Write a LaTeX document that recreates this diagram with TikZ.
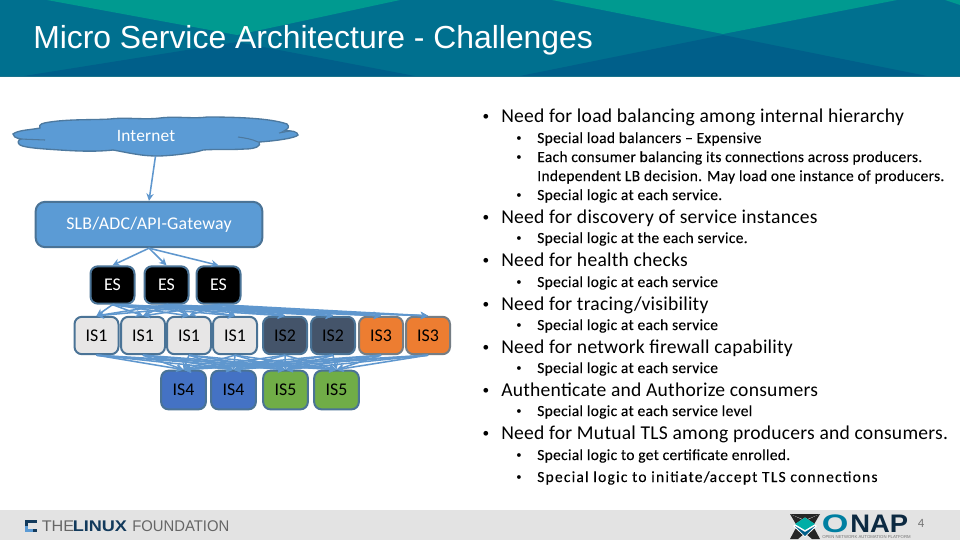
\documentclass[tikz,border=0pt]{standalone}
\usepackage{fontspec}
\setmainfont{Carlito}
\newfontfamily\titlefont{Liberation Sans}
\newfontfamily\logofont{Liberation Sans}
\newfontfamily\mainfont[LetterSpace=1.2]{Carlito}
\newfontfamily\subfont[LetterSpace=2.0,FakeBold=0.15]{Carlito}
\newfontfamily\widefont[LetterSpace=8.0,FakeBold=0.15]{Carlito}
\newfontfamily\bulfont{Carlito}
\usetikzlibrary{arrows.meta}
\definecolor{teal1}{HTML}{009A90}
\definecolor{mid1}{HTML}{00708F}
\definecolor{dark1}{HTML}{005F8A}
\definecolor{edgeblue}{HTML}{4A7396}
\definecolor{skyfill}{HTML}{5B9BD5}
\definecolor{linkblue}{HTML}{5F97CE}
\definecolor{footgray}{HTML}{E3E3E3}
\definecolor{navy}{HTML}{123A5C}
\definecolor{is1fill}{HTML}{E7E6E6}
\definecolor{is2fill}{HTML}{44546A}
\definecolor{is3fill}{HTML}{ED7D31}
\definecolor{is4fill}{HTML}{4472C4}
\definecolor{is5fill}{HTML}{70AD47}
\tikzset{
  x=0.75pt,y=-0.75pt,
  boxbase/.style={draw=edgeblue,line width=1.5pt,rounded corners=5.5pt,inner sep=0pt,
     minimum width=33pt,minimum height=28pt,font=\fontsize{13.4}{15}\selectfont},
  esbox/.style={boxbase,fill=black,text=white},
  isone/.style={boxbase,fill=is1fill,text=black},
  istwo/.style={boxbase,fill=is2fill,text=black},
  isthree/.style={boxbase,fill=is3fill,text=black,draw=gray!80!edgeblue},
  isfour/.style={boxbase,fill=is4fill,text=black},
  isfive/.style={boxbase,fill=is5fill,text=black},
  lowerbox/.style={minimum width=33.5pt,minimum height=29pt},
  link/.style={draw=linkblue,line width=1.15pt,-{Stealth[length=5.5pt,width=5.5pt]}},
  mainitem/.style={anchor=base west,inner sep=0pt,font=\fontsize{14.7}{18}\mainfont},
  subitem/.style={anchor=base west,inner sep=0pt,font=\fontsize{11.6}{13}\subfont},
  mainbul/.style={anchor=base,inner sep=0pt,font=\fontsize{10}{12}\bulfont},
  subbul/.style={anchor=base,inner sep=0pt,font=\fontsize{8}{10}\bulfont},
}
\begin{document}
\begin{tikzpicture}
\useasboundingbox (0,0) rectangle (960,540);
\fill[white] (0,0) rectangle (960,540);
% header
\fill[mid1] (0,0) rectangle (960,76);
\fill[teal1] (47,0) -- (237,35) -- (400,0) -- cycle;
\fill[teal1] (552,0) -- (723,34) -- (897,0) -- cycle;
\fill[teal1] (945,0) -- (960,0) -- (960,5) -- cycle;
\fill[dark1] (24,76) -- (237,42) -- (415,76) -- cycle;
\fill[dark1] (520,76) -- (723,35) -- (927,76) -- cycle;
\fill[mid1!80!gray] (0,75.6) rectangle (960,76.6);
\node[anchor=base west,inner sep=0pt,text=white,font=\fontsize{23.9}{26}\titlefont] (title) at (33,48) {Micro Service Architecture - Challenges};
% footer
\fill[footgray] (0,510) rectangle (960,540);
\fill[navy] (25,520) rectangle (37,532);
\fill[footgray] (28,523) rectangle (37,529);
\fill[skyfill] (25,526) rectangle (33,532);
\fill[footgray] (28,523) rectangle (34,529);
\node[anchor=base west,inner sep=0pt,font=\fontsize{11.6}{13}\logofont,text=black!60] (lfa) at (41.5,531.5) {\scalebox{1.05}[1]{THE}};
\node[anchor=base west,inner sep=0pt,font=\fontsize{11.6}{13}\logofont\bfseries,text=navy] (lfb) at (72.5,531.5) {\scalebox{1.17}[1]{LINUX}};
\node[anchor=base west,inner sep=0pt,font=\fontsize{11.6}{13}\logofont,text=black!60] (lfc) at (132,531.5) {\scalebox{0.96}[1]{FOUNDATION}};
% ONAP logo
\fill[black!85] (790,514) -- (820,514) -- (805,520) -- cycle;
\fill[black!85] (790,514) -- (797,526) -- (790,539) -- (798,539) -- (805,533) -- (812,539) -- (820,539) -- (813,526) -- (820,514) -- (805,521) -- cycle;
\fill[white] (805,517.5) -- (817,526) -- (805,537) -- (793,526) -- cycle;
\fill[teal1!80!cyan] (805,517.5) -- (815,524) -- (805,530) -- (795,524) -- cycle;
\fill[dark1] (795,526) -- (805,532) -- (815,526) -- (805,536) -- cycle;
\node[anchor=base west,inner sep=0pt,font=\fontsize{19}{21}\logofont\bfseries,text=dark1!80!cyan] (onapo) at (821.5,532) {\scalebox{1.35}[1]{O}};
\node[anchor=base west,inner sep=0pt,font=\fontsize{19}{21}\logofont\bfseries,text=navy!70!black] (onapn) at (850,532) {\scalebox{1.08}[1]{NAP}};
\node[anchor=base west,inner sep=0pt,font=\fontsize{3.2}{4}\logofont,text=black!55] (onaps) at (822,538.5) {OPEN NETWORK AUTOMATION PLATFORM};
\node[anchor=center,inner sep=0pt,font=\fontsize{9.5}{11}\selectfont,text=black!55] (pageno) at (921,523) {4};
% cloud
\draw[draw=edgeblue!85!skyfill,fill=skyfill,line width=1pt]
  (13,134) .. controls (18,130) and (30,130) .. (40,128)
  .. controls (38,124) and (43,123) .. (50,122)
  .. controls (70,119) and (95,120) .. (110,119)
  .. controls (125,117) and (145,120) .. (160,118)
  .. controls (175,116) and (195,119) .. (207,117)
  .. controls (235,117) and (270,118) .. (287,124)
  .. controls (290,127) and (288,129) .. (284,131)
  .. controls (292,130) and (298,132) .. (298,135)
  .. controls (296,138) and (275,141) .. (259,142)
  .. controls (262,146) and (255,149) .. (245,149)
  .. controls (230,150) and (215,149) .. (203,150)
  .. controls (195,153) and (170,156) .. (157,156)
  .. controls (140,156) and (125,152) .. (113,150)
  .. controls (95,152) and (75,151) .. (60,150)
  .. controls (45,149) and (25,148) .. (20,145)
  .. controls (17,143) and (18,140) .. (21,139)
  .. controls (15,138) and (13,136) .. (13,134) -- cycle;
\draw[draw=edgeblue!85!skyfill,line width=0.8pt] (20,139) -- (45,140);
\draw[draw=edgeblue!85!skyfill,line width=0.8pt] (238,137) .. controls (245,138) and (252,139) .. (258,142);
\draw[draw=edgeblue!85!skyfill,line width=0.8pt] (279,133) -- (290,131);
\coordinate (cloudbottom) at (155.5,156);
\node[inner sep=0pt,text=white,font=\fontsize{13}{15}\mainfont] (internet) at (146,135.5) {Internet};
% gateway
\node[draw=edgeblue,fill=skyfill,line width=1.5pt,rounded corners=7pt,inner sep=0pt,minimum width=170pt,minimum height=34pt,text=white,font=\fontsize{13.4}{15}\mainfont] (gw) at (149,224.5) {SLB/ADC/API-Gateway};
% boxes
\node[esbox] (es1) at (112.5,285) {ES};
\node[esbox] (es2) at (166.5,285) {ES};
\node[esbox] (es3) at (218.5,285) {ES};
\node[isone] (i1) at (96.5,335.5) {IS1};
\node[isone] (i2) at (143,335.5) {IS1};
\node[isone] (i3) at (189,335.5) {IS1};
\node[isone] (i4) at (235,335.5) {IS1};
\node[istwo] (i5) at (285,335.5) {IS2};
\node[istwo] (i6) at (333,335.5) {IS2};
\node[isthree] (i7) at (381,335.5) {IS3};
\node[isthree] (i8) at (428,335.5) {IS3};
\node[isfour,lowerbox] (l1) at (183.5,390) {IS4};
\node[isfour,lowerbox] (l2) at (233.5,390) {IS4};
\node[isfive,lowerbox] (l3) at (285.5,390) {IS5};
\node[isfive,lowerbox] (l4) at (336.5,390) {IS5};
% connectors
\draw[link] (cloudbottom) -- (gw.north);
\foreach \t in {es1,es2,es3} \draw[link] (gw.south) -- (\t.north);
\foreach \s in {es1,es2,es3}
  \foreach \t in {i1,i2,i3,i4,i5,i6,i7,i8}
    \draw[link] (\s.south) -- (\t.north);
\foreach \s in {i1,i2,i3,i4,i5,i6,i7,i8}
  \foreach \t in {l1,l2,l3,l4}
    \draw[link] (\s.south) -- (\t.north);
% text list
\foreach \yy/\txt in {
 122/Need for load balancing among internal hierarchy,
 223/Need for discovery of service instances,
 266/Need for health checks,
 310/Need for tracing\slash visibility,
 353/Need for network firewall capability,
 396/Authenticate and Authorize consumers,
 439/Need for Mutual TLS among producers and consumers.}{
  \node[mainbul] at (486,\yy-2) {•};
  \node[mainitem] at (501,\yy) {\txt};
}
\foreach \yy/\txt in {
 143/Special load balancers – Expensive,
 162/Each consumer balancing its connections across producers.,
 200/Special logic at each service.,
 243/Special logic at the each service.,
 287/Special logic at each service,
 330/Special logic at each service,
 373/Special logic at each service,
 416/Special logic at each service level,
 460/Special logic to get certificate enrolled.}{
  \node[subbul] at (519,\yy-1.5) {•};
  \node[subitem] at (537,\yy) {\txt};
}
\node[subbul] at (519,480.5) {•};
\node[subitem,font=\fontsize{11.6}{13}\widefont] (lastline) at (537,482) {Special logic to initiate\slash accept TLS connections};
\node[subitem] (cont) at (537,181) {Independent LB decision. May load one instance of producers.};
\end{tikzpicture}
\end{document}
